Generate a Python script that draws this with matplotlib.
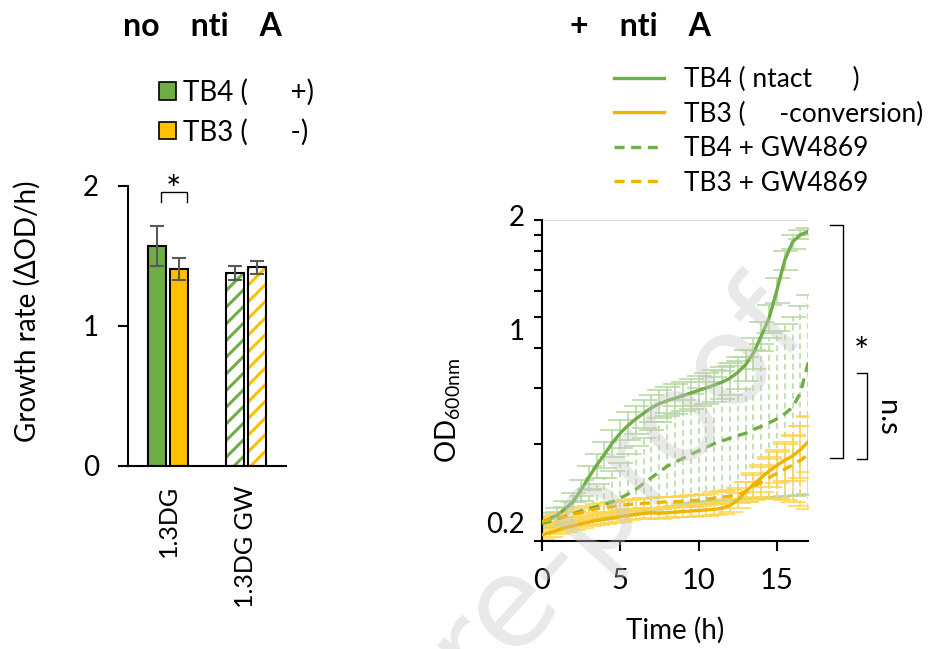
import numpy as np
import matplotlib
matplotlib.use("Agg")
import matplotlib.pyplot as plt
from matplotlib.patches import Patch
from matplotlib.lines import Line2D

plt.rcParams['font.family'] = ['Lato', 'DejaVu Sans']
plt.rcParams['mathtext.fontset'] = 'custom'
plt.rcParams['mathtext.rm'] = 'Lato'
plt.rcParams['hatch.linewidth'] = 2.2

# ---------------- data: left panel (bars) ----------------
categories = ['1.3DG', '1.3DG GW']
tb4_rate = [1.57, 1.38]
tb4_err = [0.14, 0.05]
tb3_rate = [1.405, 1.417]
tb3_err = [0.08, 0.045]
bar_legend = ['TB4 (      +)', 'TB3 (      -)']

# ---------------- data: right panel (growth curves) ----------------
time_h = np.arange(0, 17.5, 0.5)
tb4 = [0.228, 0.234, 0.241, 0.252, 0.265, 0.288, 0.316, 0.344, 0.372, 0.404,
       0.433, 0.458, 0.480, 0.500, 0.520, 0.536, 0.547, 0.557, 0.567, 0.578,
       0.589, 0.600, 0.612, 0.625, 0.643, 0.670, 0.708, 0.770, 0.870, 0.990,
       1.21, 1.50, 1.71, 1.80, 1.84]
tb4_sd = [0.008, 0.010, 0.012, 0.015, 0.018, 0.022, 0.026, 0.030, 0.034, 0.038,
          0.042, 0.045, 0.048, 0.050, 0.052, 0.054, 0.056, 0.058, 0.060, 0.062,
          0.064, 0.066, 0.068, 0.070, 0.073, 0.076, 0.080, 0.085, 0.090, 0.100,
          0.110, 0.100, 0.080, 0.060, 0.050]
tb4_gw = [0.227, 0.230, 0.234, 0.239, 0.243, 0.248, 0.252, 0.256, 0.260, 0.265,
          0.272, 0.280, 0.290, 0.302, 0.315, 0.328, 0.342, 0.352, 0.362, 0.372,
          0.382, 0.392, 0.402, 0.410, 0.418, 0.426, 0.433, 0.445, 0.455, 0.467,
          0.480, 0.498, 0.522, 0.580, 0.720]
tb4_gw_err_hi = [0.008, 0.010, 0.013, 0.017, 0.022, 0.028, 0.036, 0.044, 0.055, 0.065,
                 0.078, 0.092, 0.105, 0.118, 0.130, 0.142, 0.158, 0.173, 0.188, 0.203,
                 0.218, 0.233, 0.248, 0.265, 0.282, 0.299, 0.317, 0.340, 0.365, 0.393,
                 0.420, 0.452, 0.478, 0.500, 0.450]
tb4_gw_err_lo = [0.007, 0.009, 0.011, 0.014, 0.016, 0.019, 0.021, 0.023, 0.025, 0.028,
                 0.033, 0.039, 0.047, 0.057, 0.067, 0.077, 0.088, 0.095, 0.102, 0.110,
                 0.118, 0.126, 0.135, 0.142, 0.149, 0.156, 0.162, 0.173, 0.182, 0.193,
                 0.205, 0.222, 0.245, 0.302, 0.440]
tb3 = [0.209, 0.212, 0.216, 0.220, 0.223, 0.226, 0.229, 0.232, 0.234, 0.236,
       0.238, 0.240, 0.242, 0.244, 0.245, 0.244, 0.245, 0.246, 0.247, 0.248,
       0.249, 0.250, 0.251, 0.253, 0.258, 0.268, 0.285, 0.300, 0.315, 0.330,
       0.344, 0.357, 0.368, 0.385, 0.408]
tb3_sd = [0.006, 0.006, 0.006, 0.007, 0.007, 0.007, 0.007, 0.008, 0.008, 0.008,
          0.008, 0.008, 0.008, 0.009, 0.009, 0.009, 0.009, 0.009, 0.009, 0.010,
          0.010, 0.010, 0.010, 0.010, 0.012, 0.015, 0.020, 0.025, 0.030, 0.035,
          0.040, 0.050, 0.060, 0.070, 0.080]
tb3_gw = [0.230, 0.233, 0.236, 0.239, 0.242, 0.245, 0.249, 0.252, 0.254, 0.256,
          0.258, 0.260, 0.261, 0.262, 0.263, 0.264, 0.265, 0.265, 0.266, 0.267,
          0.268, 0.270, 0.272, 0.274, 0.276, 0.278, 0.285, 0.295, 0.305, 0.315,
          0.325, 0.335, 0.345, 0.357, 0.371]
tb3_gw_sd = [0.006, 0.006, 0.007, 0.007, 0.007, 0.008, 0.008, 0.008, 0.008, 0.009,
             0.009, 0.009, 0.009, 0.010, 0.010, 0.010, 0.010, 0.010, 0.011, 0.011,
             0.011, 0.011, 0.012, 0.012, 0.012, 0.015, 0.020, 0.027, 0.035, 0.045,
             0.055, 0.067, 0.080, 0.100, 0.120]
curve_legend = ['TB4 ( ntact      )', 'TB3 (     -conversion)',
                'TB4 + GW4869', 'TB3 + GW4869']
od_ticks = [0.2, 0.4, 0.6, 0.8, 1.0, 1.2, 1.4, 1.6, 1.8, 2.0]
time_ticks = [0, 5, 10, 15]

GREEN = '#70AD47'
YELLOW = '#FFC000'
YLINE = '#EFB300'
LGREEN = '#B5D8A0'
LYELLOW = '#FFD54F'

W, H = 936, 649
fig = plt.figure(figsize=(W / 100, H / 100), dpi=100)

# faint watermark
fig.text(815 / W, 1 - 335 / H, 'Journal Pre-proof', fontsize=90, color='#c8c8c8',
         alpha=0.4, rotation=48, rotation_mode='anchor', ha='right', va='baseline',
         family='DejaVu Sans', zorder=10)

# ---------------- left panel ----------------
axL = fig.add_axes([128 / W, 1 - 465.7 / H, (286 - 128) / W, 280 / H])
x = np.arange(len(categories))
off, bw = 0.141, 0.23
for i in range(len(categories)):
    for val, err, col, sgn in [(tb4_rate[i], tb4_err[i], GREEN, -1),
                               (tb3_rate[i], tb3_err[i], YELLOW, 1)]:
        xi = x[i] + sgn * off
        if i == 0:
            axL.bar(xi, val, bw, color=col, edgecolor='black', linewidth=1.5, zorder=2)
        else:
            axL.bar(xi, val, bw, color='white', edgecolor=col, hatch='//',
                    linewidth=0, zorder=2)
            axL.bar(xi, val, bw, fill=False, edgecolor='black', linewidth=1.5, zorder=3)
        axL.errorbar(xi, val, yerr=err, fmt='none', ecolor='#595959',
                     elinewidth=1.5, capsize=5, capthick=1.5, zorder=4)

axL.set_xlim(-0.513, 1.513)
axL.set_ylim(0, 2)
axL.set_yticks([0, 1, 2])
axL.set_xticks(x)
axL.set_xticklabels(categories, rotation=90, fontsize=18)
axL.tick_params(axis='y', direction='out', length=7, width=1.5, labelsize=20, pad=14)
axL.tick_params(axis='x', length=0, pad=14)
for s in ['top', 'right']:
    axL.spines[s].set_visible(False)
for s in ['left', 'bottom']:
    axL.spines[s].set_linewidth(1.5)
axL.set_ylabel('Growth rate (ΔOD/h)', fontsize=20)
axL.yaxis.set_label_coords(-0.55, 0.5525)

# significance bracket
axL.plot([-0.09, -0.09, 0.24, 0.24], [1.884, 1.953, 1.953, 1.884], color='black',
         lw=1.0, clip_on=False)
axL.text(0.064, 1.96, '*', ha='center', va='center', fontsize=26, clip_on=False)

fig.legend(handles=[Patch(facecolor=GREEN, edgecolor='black', linewidth=1.2),
                    Patch(facecolor=YELLOW, edgecolor='black', linewidth=1.2)],
           labels=bar_legend, loc='upper left', bbox_to_anchor=(159 / W, 1 - 79 / H),
           frameon=False, fontsize=20, handlelength=0.6, handleheight=0.6,
           handletextpad=0.25, labelspacing=0.45, borderpad=0, borderaxespad=0)

fig.text(123 / W, 1 - 27 / H, 'no    nti    A', fontsize=23, fontweight='bold',
         ha='left', va='center')

# ---------------- right panel ----------------
axR = fig.add_axes([541.7 / W, 1 - 541 / H, 266.6 / W, 321 / H])
axR.set_yscale('log')
axR.axhline(2, color='#d9d9d9', lw=1.5, zorder=0)

series = [
    (tb4, tb4_sd, GREEN, LGREEN, '-'),
    (tb4_gw, [tb4_gw_err_lo, tb4_gw_err_hi], GREEN, LGREEN, '--'),
    (tb3, tb3_sd, YLINE, LYELLOW, '-'),
    (tb3_gw, tb3_gw_sd, YLINE, LYELLOW, '--'),
]
for vals, err, col, ecol, ls in series:
    eb = axR.errorbar(time_h, vals, yerr=err, fmt='none', ecolor=ecol,
                      elinewidth=1.4, capsize=9, capthick=1.4, alpha=0.8, zorder=2)
    if ls == '--':
        eb[2][0].set_linestyle((0, (3, 2)))
for vals, err, col, ecol, ls in series:
    axR.plot(time_h, vals, color=col, lw=2.4,
             linestyle='-' if ls == '-' else (0, (3, 2)), zorder=3)

axR.set_xlim(0, 17)
axR.set_ylim(0.2, 2)
axR.set_yticks(od_ticks)
axR.set_yticklabels([''] * len(od_ticks))
axR.yaxis.set_minor_locator(matplotlib.ticker.NullLocator())
axR.set_xticks(time_ticks)
axR.tick_params(axis='y', direction='out', length=6, width=1.5)
axR.tick_params(axis='x', direction='out', length=7.5, width=1.5, labelsize=21, pad=12)
for s in ['top', 'right']:
    axR.spines[s].set_visible(False)
for s in ['left', 'bottom']:
    axR.spines[s].set_linewidth(1.5)
ytr = axR.get_yaxis_transform()
for yv, ylab in [(2.03, '2'), (0.898, '1'), (0.224, '0.2')]:
    axR.text(-0.062, yv, ylab, transform=ytr, ha='right', va='center', fontsize=20)

axR.set_xlabel('Time (h)', fontsize=20)
axR.xaxis.set_label_coords(0.5, -0.235)
axR.set_ylabel(r'$\mathrm{OD}_{\mathrm{600nm}}$', fontsize=20)
axR.yaxis.set_label_coords(-0.295, 0.408)

# right-side brackets
axR.plot([1.081, 1.130, 1.130, 1.081], [0.984, 0.984, 0.258, 0.258], color='black',
         lw=1.0, transform=axR.transAxes, clip_on=False)
axR.plot([1.183, 1.219, 1.219, 1.183], [0.524, 0.524, 0.255, 0.255], color='black',
         lw=1.0, transform=axR.transAxes, clip_on=False)
axR.text(1.200, 0.585, '*', transform=axR.transAxes, ha='center', va='center',
         fontsize=26)
axR.text(1.294, 0.383, 'n.s', transform=axR.transAxes, ha='center', va='center',
         fontsize=21, rotation=270)

handles = [Line2D([], [], color=GREEN, lw=2.4),
           Line2D([], [], color=YLINE, lw=2.4),
           Line2D([], [], color=GREEN, lw=2.4, linestyle=(0, (3, 2))),
           Line2D([], [], color=YLINE, lw=2.4, linestyle=(0, (3, 2)))]
fig.legend(handles=handles, labels=curve_legend, loc='upper left',
           bbox_to_anchor=(614 / W, 1 - 67 / H), frameon=False, fontsize=19,
           handlelength=1.9, handletextpad=0.75, labelspacing=0.36,
           borderpad=0, borderaxespad=0)

fig.text(570 / W, 1 - 27 / H, '+    nti    A', fontsize=23, fontweight='bold',
         ha='left', va='center')

fig.savefig('out.png', dpi=100)
